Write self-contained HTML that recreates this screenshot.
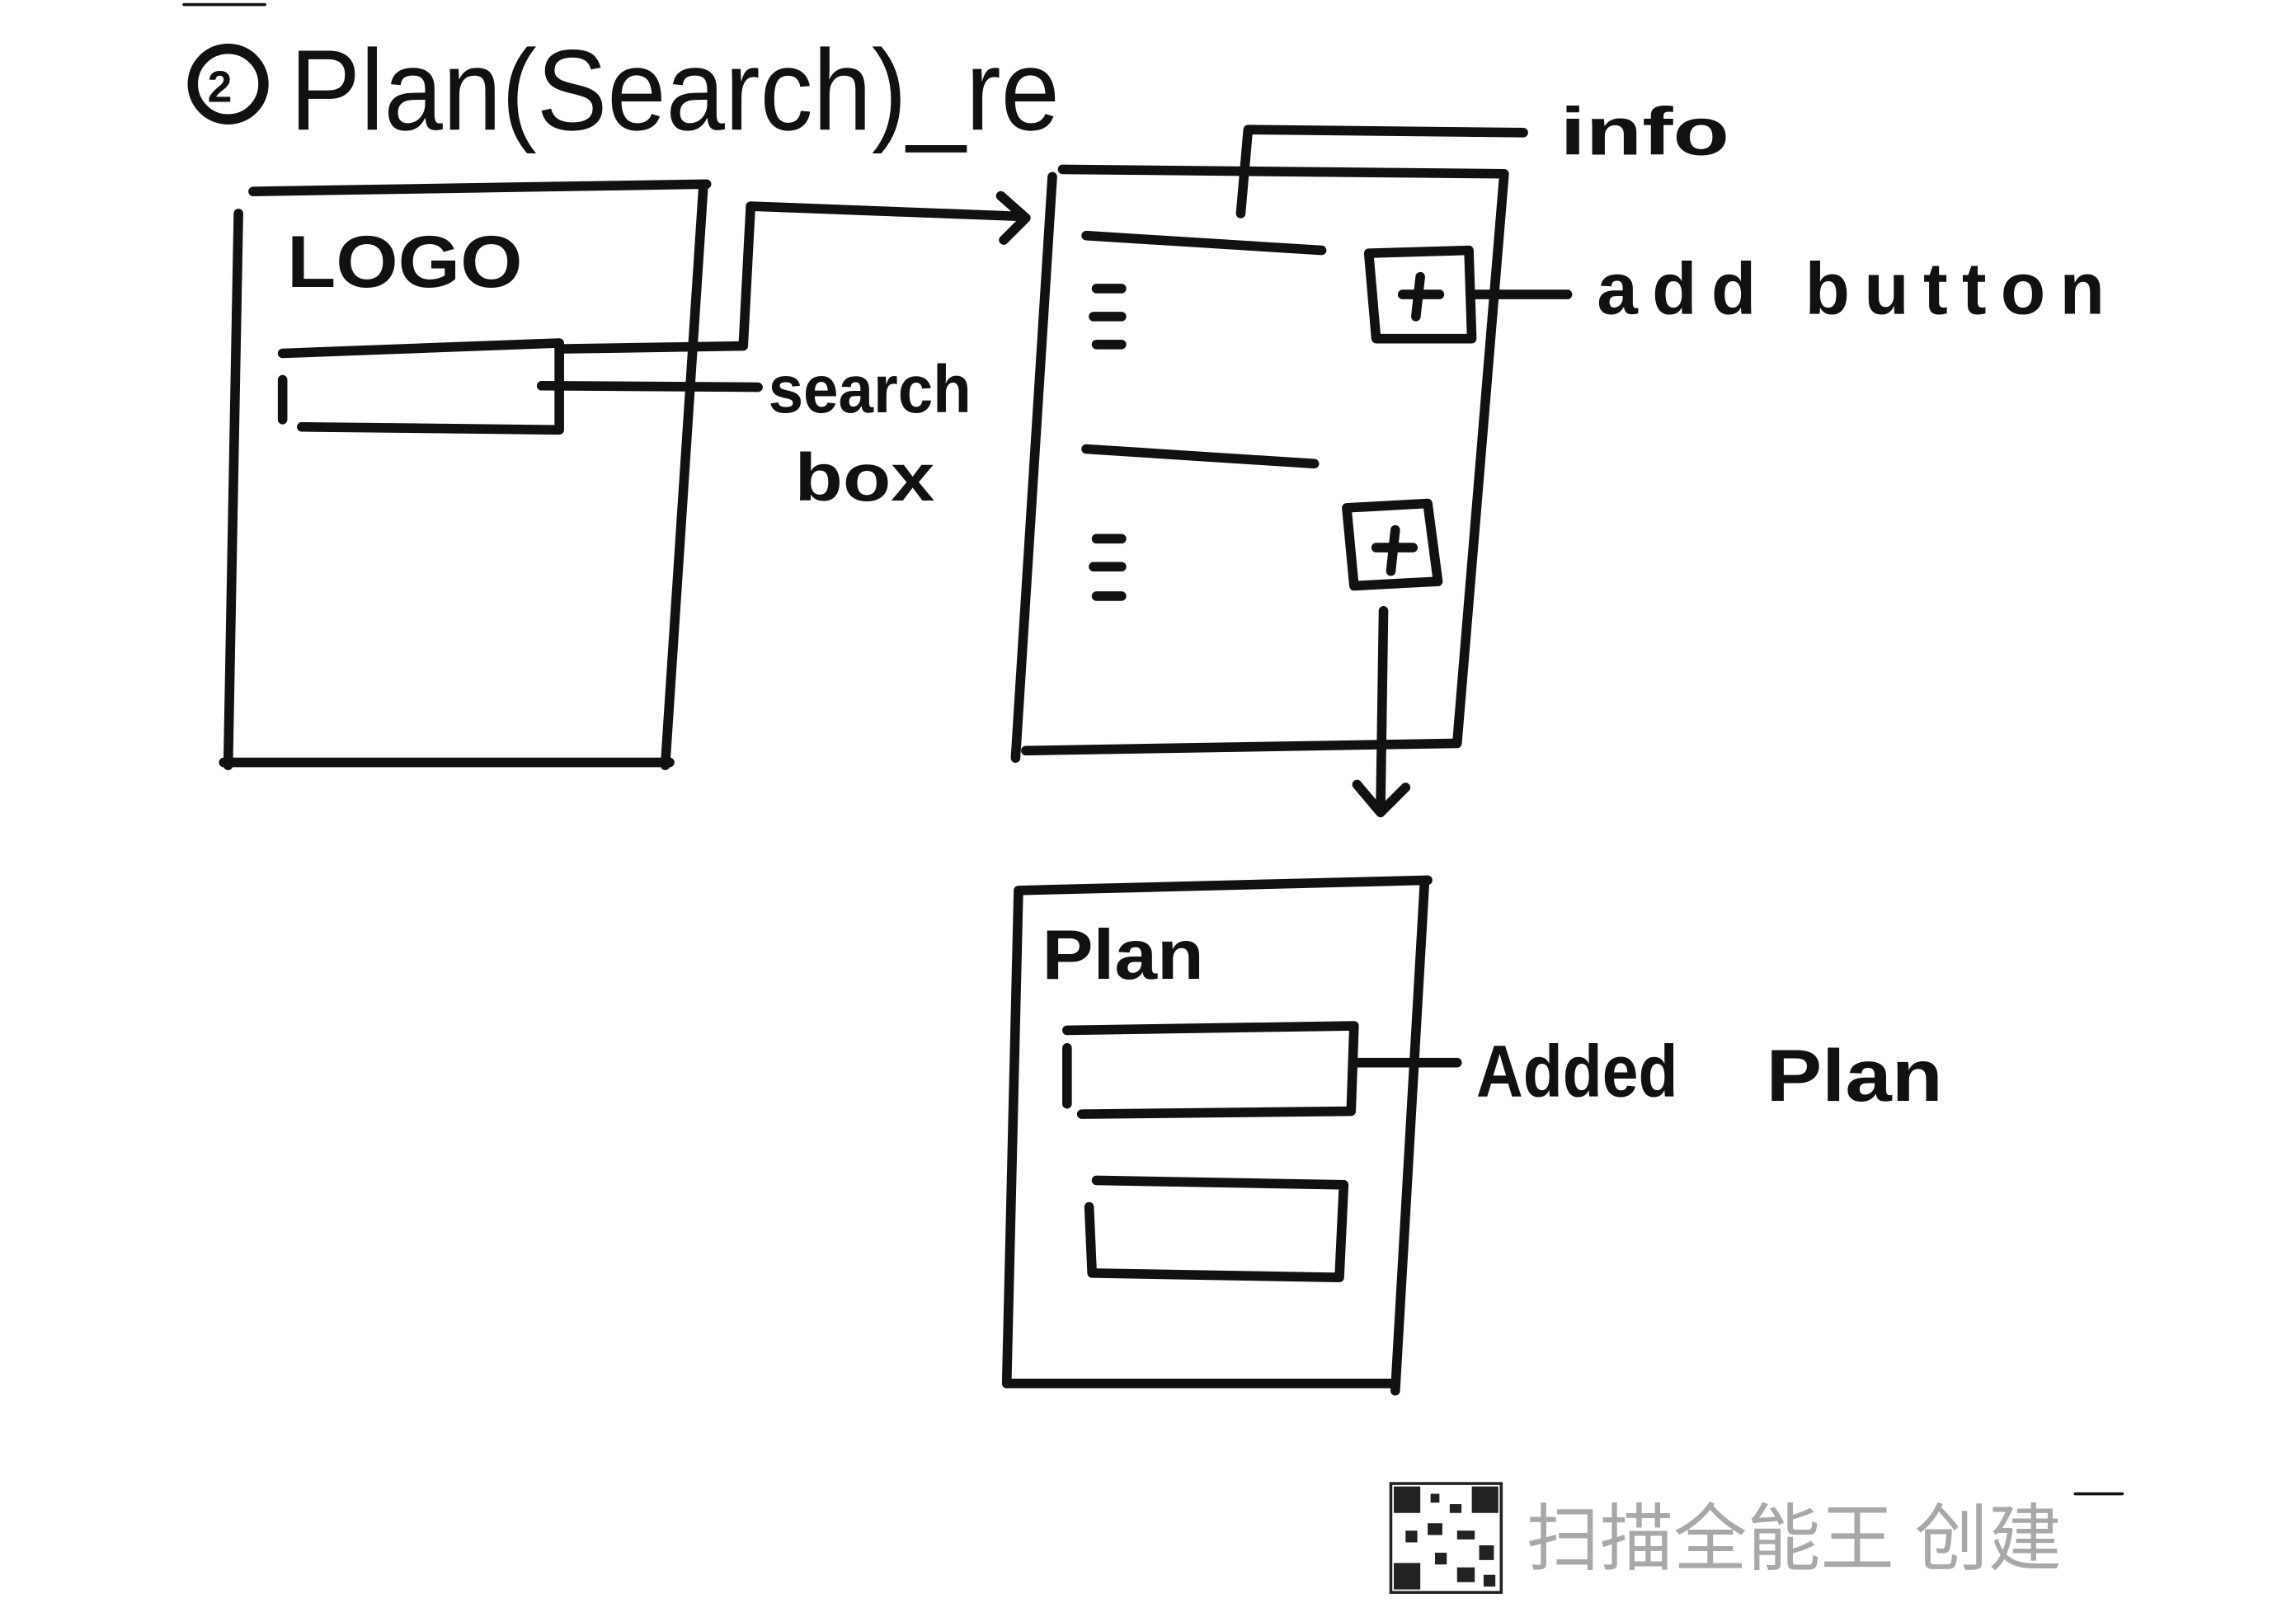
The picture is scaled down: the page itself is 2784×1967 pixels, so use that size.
<!DOCTYPE html>
<html><head><meta charset="utf-8"><style>
html,body{margin:0;padding:0;background:#fff;}
svg{display:block;}
text{font-family:"Liberation Sans","Noto Sans CJK SC",sans-serif;}
</style></head><body>
<svg width="2784" height="1967" viewBox="0 0 1560 1102" xmlns="http://www.w3.org/2000/svg">
<rect width="1560" height="1102" fill="#fff"/>
<g fill="none" stroke="#111" stroke-width="6.5" stroke-linecap="round" stroke-linejoin="round">
<line x1="125" y1="3" x2="180" y2="3" stroke-width="2"/>
<circle cx="155" cy="57" r="24" stroke-width="7"/>
<path d="M172 130 L480 125 M478 125 L452 520 M455 518 L152 518 M155 520 L162 145"/>
<path d="M192 240 L380 233 L380 292 L205 290 M192 258 L192 285"/>
<line x1="368" y1="262" x2="515" y2="263"/>
<path d="M380 237 L505 235 L510 140 L695 147"/>
<path d="M680 133 L697 148 L682 163"/>
<path d="M722 115 L1022 118 M1022 118 L990 505 M990 505 L697 510 M690 515 L715 120"/>
<path d="M738 160 L898 170"/>
<path d="M843 145 L848 88 L1035 90"/>
<path d="M745 196 L762 196 M743 215 L762 215 M745 234 L762 234"/>
<path d="M930 172 L998 170 L1000 230 L935 230 Z M953 200 L978 200 M965 188 L962 215"/>
<line x1="1003" y1="200" x2="1065" y2="200"/>
<path d="M738 305 L893 315"/>
<path d="M745 366 L762 366 M743 385 L762 385 M745 405 L762 405"/>
<path d="M915 345 L970 342 L977 395 L920 398 Z M935 372 L960 372 M948 360 L945 388"/>
<path d="M940 415 L938 550 M922 533 L938 552 L955 535"/>
<path d="M692 605 L970 598 M968 598 L948 945 M948 940 L684 940 M684 940 L692 605"/>
<path d="M725 700 L920 697 L918 755 L735 757 M725 712 L725 750"/>
<line x1="920" y1="722" x2="990" y2="722"/>
<path d="M740 820 L742 865 L910 868 L913 805 L745 802"/>
<line x1="1410" y1="1015" x2="1442" y2="1015" stroke-width="2"/>
</g>
<g fill="#111" font-weight="bold">
<text x="141" y="69" font-size="30">2</text>
<text x="197" y="88" font-size="78" font-weight="normal" textLength="523" lengthAdjust="spacingAndGlyphs">Plan(Search)_re</text>
<text x="195" y="195" font-size="50" textLength="160" lengthAdjust="spacingAndGlyphs">LOGO</text>
<text x="522" y="280" font-size="46" textLength="138" lengthAdjust="spacingAndGlyphs">search</text>
<text x="540" y="340" font-size="46" textLength="95" lengthAdjust="spacingAndGlyphs">box</text>
<text x="1060" y="105" font-size="46" textLength="115" lengthAdjust="spacingAndGlyphs">info</text>
<text x="1085" y="213" font-size="50" textLength="345" lengthAdjust="spacing">add  button</text>
<text x="708" y="665" font-size="48" textLength="110" lengthAdjust="spacingAndGlyphs">Plan</text>
<text x="1003" y="745" font-size="50" textLength="137" lengthAdjust="spacingAndGlyphs">Added</text>
<text x="1200" y="748" font-size="50" textLength="120" lengthAdjust="spacingAndGlyphs">Plan</text>
</g>
<g fill="#222">
<rect x="945" y="1008" width="75" height="74" fill="#fff" stroke="#222" stroke-width="2"/>
<rect x="947" y="1010" width="18" height="18"/><rect x="1000" y="1010" width="18" height="18"/><rect x="947" y="1062" width="18" height="18"/>
<rect x="972" y="1015" width="6" height="6"/><rect x="985" y="1022" width="8" height="6"/><rect x="970" y="1035" width="10" height="8"/>
<rect x="990" y="1040" width="12" height="6"/><rect x="955" y="1040" width="8" height="8"/><rect x="1005" y="1050" width="10" height="10"/>
<rect x="975" y="1055" width="8" height="8"/><rect x="990" y="1065" width="12" height="10"/><rect x="1008" y="1070" width="8" height="8"/>
</g>
<text x="1037" y="1063" font-size="50" fill="#a8a8a8" font-family="'Noto Sans CJK SC',sans-serif">扫描全能王 创建</text>
</svg>
</body></html>
